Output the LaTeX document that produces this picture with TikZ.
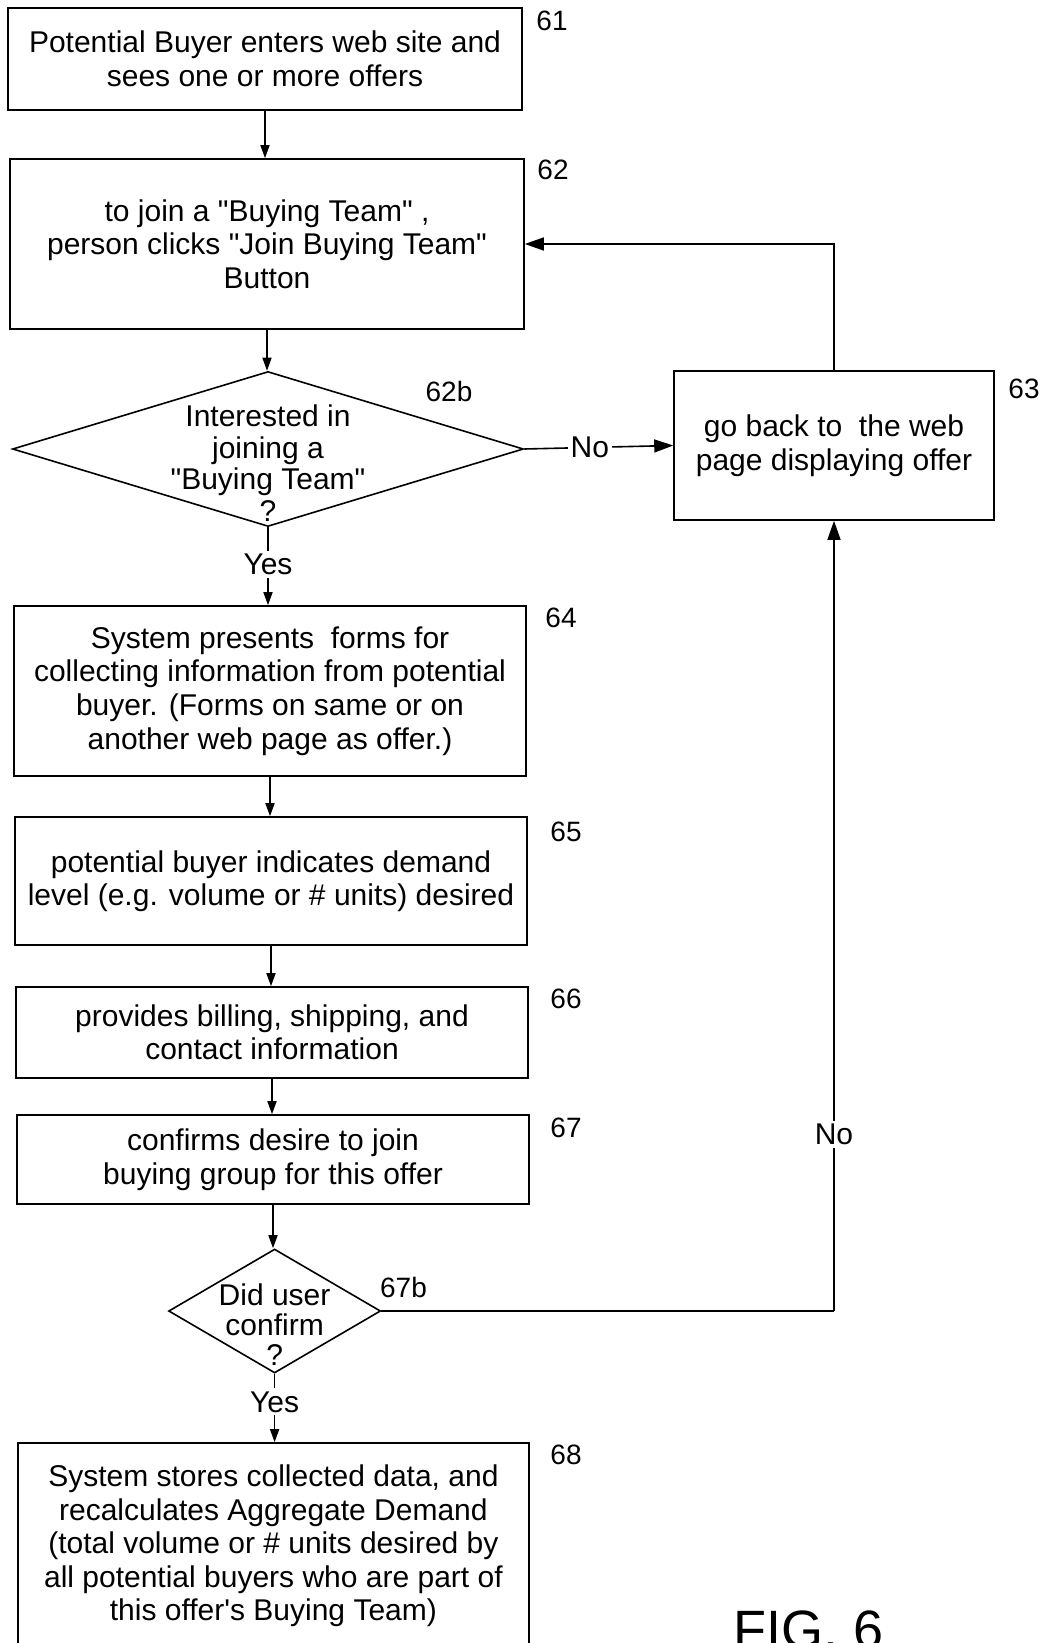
\documentclass[tikz,border=0pt]{standalone}
\usepackage{fontspec}
\setmainfont{Liberation Sans}[Ligatures=TeXOff]
\usetikzlibrary{shapes.geometric,arrows.meta}
\begin{document}
\begin{tikzpicture}[x=1pt,y=-1pt,
  line width=1.6pt,
  txt/.style={font=\fontsize{30}{33.5}\selectfont, align=center, inner sep=0pt},
  box/.style={draw, rectangle, txt, minimum width=#1},
  dia/.style={draw, diamond, inner sep=0pt},
  lab/.style={font=\fontsize{28}{30}\selectfont, inner sep=0pt},
  arr/.style={-{Triangle[length=13pt,width=9pt]}},
  arrbig/.style={-{Triangle[length=19pt,width=13pt]}},
  lbl/.style={txt, fill=white, inner sep=3pt}]
\useasboundingbox (0,0) rectangle (1048,1643);
% boxes
\node[box=514pt, minimum height=102pt] (b61) at (265,59)
  {Potential Buyer enters web site and\\sees one or more offers};
\node[box=514pt, minimum height=170pt] (b62) at (267,244)
  {to join a "Buying Team" ,\\person clicks "Join Buying Team"\\Button};
\node[dia, minimum width=511pt, minimum height=155pt] (d1) at (268,449) {};
\node[txt, font=\fontsize{30}{31.5}\selectfont] (d1t) at (268,463)
  {Interested in\\joining a\\"Buying Team"\\?};
\node[box=320pt, minimum height=149pt] (b63) at (834,445.5)
  {go back to~ the web\\page displaying offer};
\node[box=512pt, minimum height=170pt] (b64) at (270,691)
  {System presents~ forms for\\collecting information from potential\\buyer. (Forms on same or on\\another web page as offer.)};
\node[box=512pt, minimum height=128pt] (b65) at (271,881)
  {potential buyer indicates demand\\level (e.g. volume or \# units) desired};
\node[box=512pt, minimum height=91pt] (b66) at (272,1032.5)
  {provides billing, shipping, and\\contact information};
\node[box=512pt, minimum height=89pt] (b67) at (273,1159.5)
  {confirms desire to join\\buying group for this offer};
\node[dia, minimum width=212pt, minimum height=124pt] (d2) at (274.6,1311) {};
\node[txt, font=\fontsize{30}{30}\selectfont] (d2t) at (274.6,1325)
  {Did user\\confirm\\?};
\node[box=511pt, minimum height=206pt] (b68) at (273.4,1546)
  {System stores collected data, and\\recalculates Aggregate Demand\\(total volume or \# units desired by\\all potential buyers who are part of\\this offer's Buying Team)};
% reference numerals
\node[lab] (l61) at (552,21) {61};
\node[lab] (l62) at (553,170) {62};
\node[lab] (l62b) at (449,391) {62b};
\node[lab] (l63) at (1024,389) {63};
\node[lab] (l64) at (561,618) {64};
\node[lab] (l65) at (566,832) {65};
\node[lab] (l66) at (566,999) {66};
\node[lab] (l67) at (566,1128) {67};
\node[lab] (l67b) at (403.5,1287) {67b};
\node[lab] (l68) at (566,1455) {68};
\node[font=\fontsize{54}{60}\selectfont, anchor=base west, inner sep=0pt] (fig) at (733,1648) {FIG. 6};
% connectors
\draw[arr] (b61.south) -- (b61.south |- b62.north);
\draw[arr] (b62.south) -- (b62.south |- d1.north);
\draw[arrbig] (d1.east) -- node[lbl, pos=0.44] {No} (b63.west);
\draw[arrbig] (b63.north) |- (b62.east);
\draw[arr] (d1.south) -- node[lbl, pos=0.48] {Yes} (d1.south |- b64.north);
\draw[arr] (b64.south) -- (b64.south |- b65.north);
\draw[arr] (b65.south) -- (b65.south |- b66.north);
\draw[arr] (b66.south) -- (b66.south |- b67.north);
\draw[arr] (b67.south) -- (b67.south |- d2.north);
\coordinate (c2) at (b63.south |- d2.east);
\draw (d2.east) -- (c2);
\draw[arrbig] (c2) -- node[lbl, pos=0.223] {No} (b63.south);
\draw[arr] (d2.south) -- node[lbl, pos=0.41] {Yes} (d2.south |- b68.north);
\end{tikzpicture}
\end{document}
